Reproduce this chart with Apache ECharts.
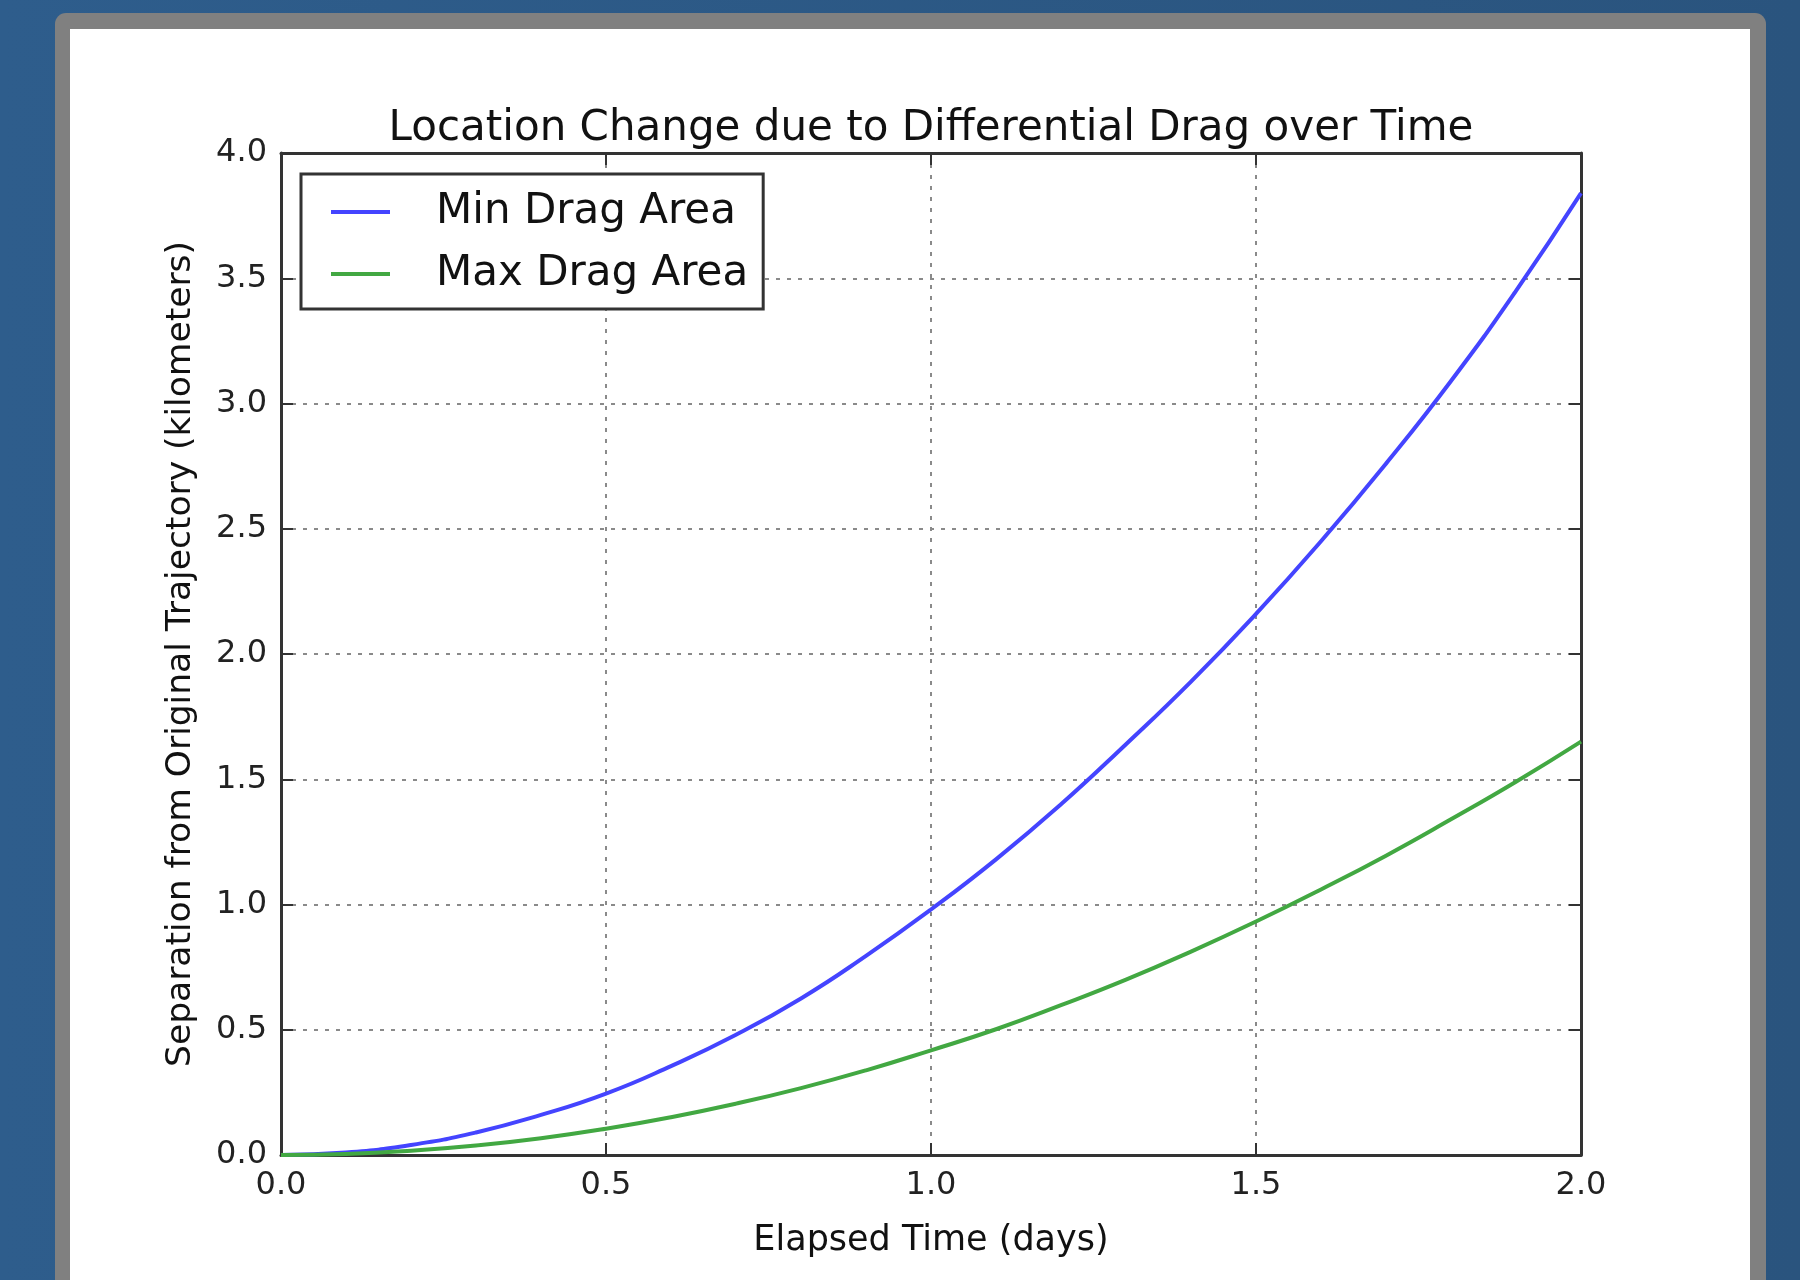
<!DOCTYPE html>
<html>
<head>
<meta charset="utf-8">
<script src="https://cdn.jsdelivr.net/npm/echarts@6/dist/echarts.min.js"></script>
<style>
  html, body { margin: 0; padding: 0; }
  #chart { width: 1800px; height: 1280px; }
</style>
</head>
<body>
<div id="chart"></div>
<script>
// elapsed time (days) sampled along the curves
const times = [0.0, 0.1, 0.2, 0.3, 0.4, 0.5, 0.6, 0.7, 0.8, 0.9, 1.0,
  1.1, 1.2, 1.3, 1.4, 1.5, 1.6, 1.7, 1.8, 1.9, 2.0];

// separation in km
const minDrag = [0, 0.01, 0.04, 0.09, 0.16, 0.245, 0.355, 0.48, 0.625, 0.795, 0.98,
  1.18, 1.40, 1.64, 1.89, 2.16, 2.45, 2.76, 3.09, 3.45, 3.84];
const maxDrag = [0, 0.004, 0.017, 0.038, 0.067, 0.105, 0.151, 0.205, 0.267, 0.338, 0.418,
  0.502, 0.598, 0.700, 0.812, 0.932, 1.06, 1.195, 1.34, 1.49, 1.65];

const seriesNames = ["Min Drag Area", "Max Drag Area"];
const xTicks = [0, 0.5, 1.0, 1.5, 2.0];
const yTicks = [0, 0.5, 1.0, 1.5, 2.0, 2.5, 3.0, 3.5, 4.0];

const chart = echarts.init(document.getElementById("chart"));

const FONT = "DejaVu Sans";
const frameColor = "#333";

const gridLine = {
  show: true,
  lineStyle: { color: "#8a8a8a", width: 2, type: [4, 7] },
};

// all four sides of the frame get inward ticks, like the matplotlib original
function baseAxis(extra) {
  return Object.assign(
    {
      type: "value",
      axisLine: { show: true, onZero: false, lineStyle: { color: frameColor, width: 3 } },
      axisTick: { show: true, inside: true, length: 12, lineStyle: { color: frameColor, width: 2 } },
      splitLine: { show: false },
    },
    extra
  );
}

const option = {
  animation: false,
  backgroundColor: {
    type: "linear",
    x: 0, y: 0, x2: 1, y2: 0,
    colorStops: [
      { offset: 0, color: "#2e5d8c" },
      { offset: 1, color: "#2a547e" },
    ],
  },
  graphic: [
    {
      type: "rect",
      z: -10,
      shape: { x: 55, y: 13, width: 1711, height: 1320, r: 11 },
      style: { fill: "#808080" },
    },
    {
      type: "rect",
      z: -9,
      shape: { x: 70, y: 29, width: 1680, height: 1300 },
      style: { fill: "#ffffff" },
    },
  ],
  title: {
    text: "Location Change due to Differential Drag over Time",
    left: 931,
    top: 108,
    textAlign: "center",
    padding: 0,
    textStyle: { fontFamily: FONT, fontSize: 42, fontWeight: "normal", color: "#111" },
  },
  legend: {
    orient: "vertical",
    left: 301,
    top: 174,
    padding: [17, 15, 14, 30],
    itemGap: 20,
    itemWidth: 59,
    itemHeight: 4,
    icon: "rect",
    borderColor: frameColor,
    borderWidth: 3,
    backgroundColor: "#fff",
    data: seriesNames,
    textStyle: {
      fontFamily: FONT,
      fontSize: 42,
      lineHeight: 41,
      color: "#111",
      padding: [0, 0, 0, 41],
    },
  },
  grid: { left: 281, right: 219, top: 153, bottom: 125, containLabel: false },
  xAxis: [
    baseAxis({
      min: 0,
      max: 2,
      interval: 0.5,
      name: "Elapsed Time (days)",
      nameLocation: "middle",
      nameGap: 68,
      nameTextStyle: { fontFamily: FONT, fontSize: 35, color: "#111" },
      axisLabel: {
        fontFamily: FONT,
        fontSize: 32,
        color: "#222",
        margin: 15,
        formatter: (v) => (xTicks.includes(v) ? v.toFixed(1) : ""),
      },
      splitLine: gridLine,
    }),
    baseAxis({
      position: "top",
      min: 0,
      max: 2,
      interval: 0.5,
      axisLabel: { show: false },
    }),
  ],
  yAxis: [
    baseAxis({
      min: 0,
      max: 4,
      interval: 0.5,
      name: "Separation from Original Trajectory (kilometers)",
      nameLocation: "middle",
      nameGap: 82,
      nameTextStyle: { fontFamily: FONT, fontSize: 34.5, color: "#111" },
      axisLabel: {
        fontFamily: FONT,
        fontSize: 32,
        color: "#222",
        margin: 14,
        formatter: (v) => (yTicks.includes(v) ? v.toFixed(1) : ""),
      },
      splitLine: gridLine,
    }),
    baseAxis({
      position: "right",
      min: 0,
      max: 4,
      interval: 0.5,
      axisLabel: { show: false },
    }),
  ],
  series: [
    {
      name: seriesNames[0],
      type: "line",
      smooth: true,
      symbol: "none",
      color: "#4444ff",
      lineStyle: { color: "#4444ff", width: 4 },
      data: times.map((t, i) => [t, minDrag[i]]),
      z: 3,
    },
    {
      name: seriesNames[1],
      type: "line",
      smooth: true,
      symbol: "none",
      color: "#42a842",
      lineStyle: { color: "#42a842", width: 4 },
      data: times.map((t, i) => [t, maxDrag[i]]),
      z: 3,
    },
  ],
};

chart.setOption(option);
</script>
</body>
</html>
